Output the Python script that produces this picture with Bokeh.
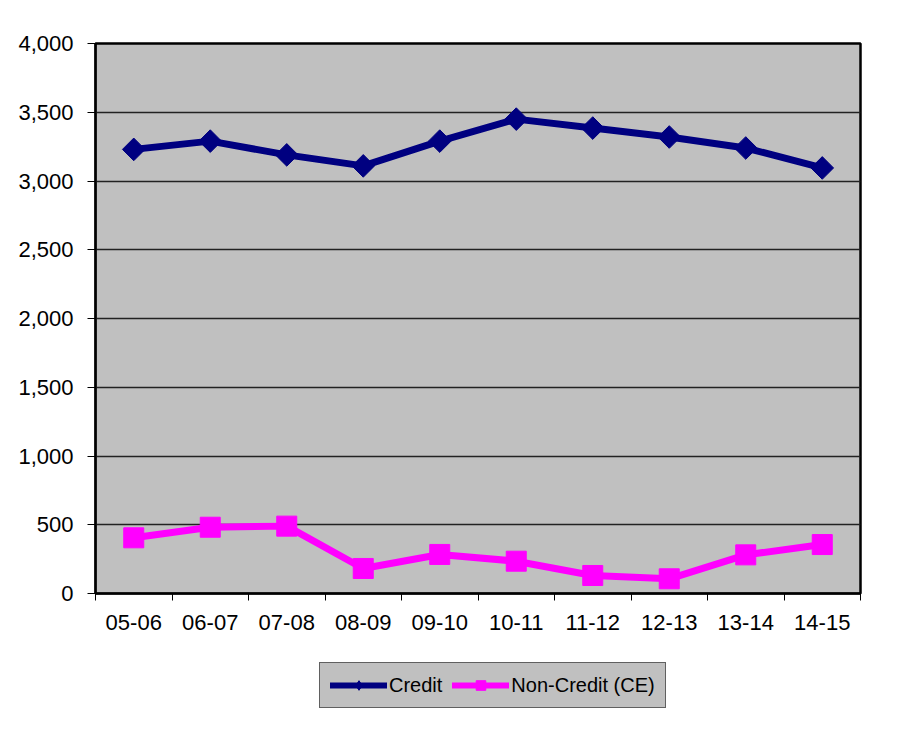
import numpy as np
from bokeh.plotting import figure
from bokeh.layouts import column
from bokeh.models import (ColumnDataSource, Range1d, FixedTicker, NumeralTickFormatter,
                          Legend, LegendItem)
from bokeh.embed import file_html
from bokeh.resources import INLINE

categories = ["05-06", "06-07", "07-08", "08-09", "09-10",
              "10-11", "11-12", "12-13", "13-14", "14-15"]
credit = [3230, 3290, 3190, 3110, 3290, 3450, 3385, 3320, 3240, 3095]
non_credit = [405, 482, 490, 182, 284, 235, 131, 107, 281, 356]
y_ticks = [0, 500, 1000, 1500, 2000, 2500, 3000, 3500, 4000]
series_names = ["Credit", "Non-Credit (CE)"]

n = len(categories)
xs = list(np.arange(n) + 0.5)
src = ColumnDataSource(dict(x=xs, credit=credit, non_credit=non_credit))

FONT = "Liberation Sans"
navy = "#000080"
magenta = "#FF00FF"

p = figure(width=895, height=650, output_backend="svg", toolbar_location=None,
           x_range=Range1d(0, n), y_range=Range1d(0, 4000),
           min_border_left=95, min_border_right=35, min_border_top=43, min_border_bottom=57)
p.background_fill_color = "#C0C0C0"
p.border_fill_color = "white"
p.outline_line_color = "black"
p.outline_line_width = 2.5

# axes
p.xaxis.ticker = FixedTicker(ticks=xs, minor_ticks=list(range(n + 1)))
p.xaxis.major_label_overrides = {float(x): c for x, c in zip(xs, categories)}
p.xaxis.major_tick_line_color = None
p.xaxis.minor_tick_line_color = "black"
p.xaxis.minor_tick_out = 7
p.xaxis.minor_tick_in = 0
p.xaxis.axis_line_color = "black"
p.xaxis.axis_line_width = 2
p.xaxis.major_label_standoff = 14
p.xaxis.major_label_text_font = FONT
p.xaxis.major_label_text_font_size = "22px"
p.xaxis.major_label_text_color = "black"

p.yaxis.ticker = FixedTicker(ticks=y_ticks)
p.yaxis.formatter = NumeralTickFormatter(format="0,0")
p.yaxis.major_tick_out = 8
p.yaxis.major_tick_in = 0
p.yaxis.minor_tick_line_color = None
p.yaxis.axis_line_color = "black"
p.yaxis.axis_line_width = 2
p.yaxis.major_label_standoff = 14
p.yaxis.major_label_text_font = FONT
p.yaxis.major_label_text_font_size = "22px"
p.yaxis.major_label_text_color = "black"

p.xgrid.grid_line_color = None
p.ygrid.grid_line_color = "#222222"
p.ygrid.grid_line_width = 1.5

p.line("x", "credit", source=src, line_color=navy, line_width=7)
p.scatter("x", "credit", source=src, marker="square", angle=np.pi / 4,
          size=16, fill_color=navy, line_color=navy)
p.line("x", "non_credit", source=src, line_color=magenta, line_width=7)
p.scatter("x", "non_credit", source=src, marker="square",
          size=20, fill_color=magenta, line_color=magenta)

# legend strip below the chart (its renderers use the same data, out of view)
p2 = figure(width=895, height=71, output_backend="svg", toolbar_location=None,
            x_range=Range1d(0, 1), y_range=Range1d(0, 1),
            min_border_left=0, min_border_right=0, min_border_top=0, min_border_bottom=0)
p2.axis.visible = False
p2.grid.visible = False
p2.outline_line_color = None
p2.background_fill_color = "white"
p2.border_fill_color = "white"
d1 = p2.line("x", "credit", source=src, line_color=navy, line_width=6, line_cap="round")
e1 = p2.scatter("x", "credit", source=src, marker="diamond",
                size=13, fill_color=navy, line_color=navy)
d2 = p2.line("x", "non_credit", source=src, line_color=magenta, line_width=6, line_cap="round")
e2 = p2.scatter("x", "non_credit", source=src, marker="square",
                size=10, fill_color=magenta, line_color=magenta)

legend = Legend(items=[LegendItem(label=series_names[0], renderers=[d1, e1]),
                       LegendItem(label=series_names[1], renderers=[d2, e2])],
                location=(224, 13), orientation="horizontal")
legend.background_fill_color = "#C0C0C0"
legend.background_fill_alpha = 1
legend.border_line_color = "black"
legend.border_line_width = 1
legend.label_text_font = FONT
legend.label_text_font_size = "20px"
legend.label_text_color = "black"
legend.glyph_width = 57
legend.glyph_height = 24
legend.label_standoff = 2
legend.spacing = 10
legend.padding = 10
legend.margin = 0
p2.add_layout(legend, "center")

layout = column(p, p2, spacing=0)
open("out.html", "w").write(file_html(layout, INLINE))
